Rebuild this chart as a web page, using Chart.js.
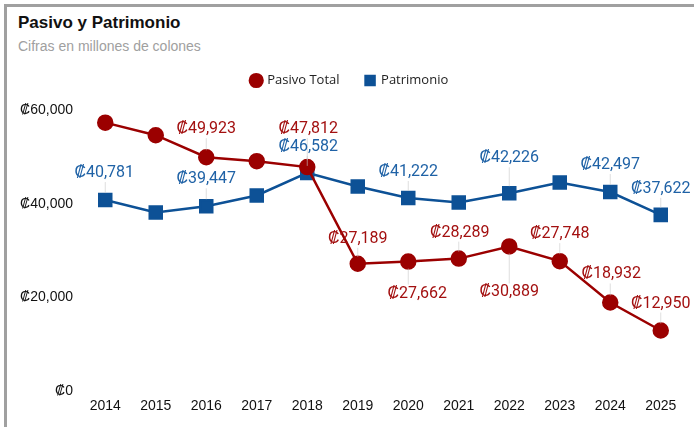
<!DOCTYPE html>
<html>
<head>
<meta charset="utf-8">
<script src="https://cdn.jsdelivr.net/npm/chart.js@4"></script>
<style>
  html, body { margin: 0; padding: 0; background: #fff; overflow: hidden; }
  #frame { position: absolute; left: 4px; top: 4px; width: 690px; height: 423px;
           border-top: 3px solid #a0a0a0; border-left: 3px solid #a0a0a0; box-sizing: border-box; }
  #title { position: absolute; left: 18px; top: 13px; font: bold 17px "Liberation Sans", Arial, sans-serif; color: #111; }
  #sub { position: absolute; left: 18px; top: 38px; font: 14px "Liberation Sans", Arial, sans-serif; color: #a0a0a0; }
  #wrap { position: absolute; left: 0; top: 0; width: 697px; height: 427px; }
</style>
</head>
<body>
<div id="frame"></div>
<div id="title">Pasivo y Patrimonio</div>
<div id="sub">Cifras en millones de colones</div>
<div id="wrap"><canvas id="chart"></canvas></div>
<script>
const years = ['2014', '2015', '2016', '2017', '2018', '2019', '2020', '2021', '2022', '2023', '2024', '2025'];
const pasivoTotal = [57300, 54620, 49923, 49085, 47812, 27189, 27662, 28289, 30889, 27748, 18932, 12950];
const patrimonio = [40781, 38150, 39447, 41770, 46582, 43680, 41222, 40280, 42226, 44530, 42497, 37622];
const yTicks = [0, 20000, 40000, 60000];

// label offsets (dx, dy) from each point; null = no label
const pasivoLabelPos = [null, null, [0, -28], null, [1, -38], [0, -25], [9, 32], [1, -26], [0, 46], [0, -27], [1, -28], [0, -27]];
const patrimonioLabelPos = [[-1, -27], null, [0, -27], null, [1, -26], null, [0, -26], null, [0, -35], null, [0, -27], [0, -26]];

const RED = '#9b0000';
const BLUE = '#0d5196';

const fmt = v => '₡' + v.toLocaleString('en-US');

const pointLabels = {
  id: 'pointLabels',
  afterDatasetsDraw(chart) {
    const ctx = chart.ctx;
    const sets = [[0, pasivoLabelPos, '#a31010'], [1, patrimonioLabelPos, '#1f62a6']];
    ctx.save();
    ctx.font = '16px Roboto, sans-serif';
    ctx.textAlign = 'center';
    ctx.textBaseline = 'middle';
    sets.forEach(([di, pos, color]) => {
      const meta = chart.getDatasetMeta(di);
      const data = chart.data.datasets[di].data;
      meta.data.forEach((pt, i) => {
        const p = pos[i];
        if (!p) return;
        const lx = pt.x + p[0], ly = pt.y + p[1];
        // faint leader line
        ctx.strokeStyle = 'rgba(200,200,200,0.6)';
        ctx.lineWidth = 1;
        ctx.beginPath();
        if (p[1] < 0) { ctx.moveTo(pt.x, ly + 9); ctx.lineTo(pt.x, pt.y - 7); }
        else { ctx.moveTo(pt.x, pt.y + 7); ctx.lineTo(pt.x, ly - 9); }
        ctx.stroke();
        ctx.fillStyle = color;
        ctx.fillText(fmt(data[i]), lx, ly);
      });
    });
    ctx.restore();
  }
};

// extra room under the legend
const legendGap = {
  id: 'legendGap',
  beforeInit(chart) {
    const fit = chart.legend.fit;
    chart.legend.fit = function () { fit.call(this); this.height += 13; };
  }
};

const tickFont = { family: '"Liberation Sans", Arial, sans-serif', size: 14 };

new Chart(document.getElementById('chart'), {
  type: 'line',
  data: {
    labels: years,
    datasets: [
      { label: 'Pasivo Total', data: pasivoTotal, borderColor: RED, backgroundColor: RED,
        borderWidth: 2.5, pointStyle: 'circle', pointRadius: 7, pointHoverRadius: 7, tension: 0 },
      { label: 'Patrimonio', data: patrimonio, borderColor: BLUE, backgroundColor: BLUE,
        borderWidth: 2.5, pointStyle: 'rect', pointRadius: 8.5, pointHoverRadius: 8.5, tension: 0 }
    ]
  },
  options: {
    responsive: true,
    maintainAspectRatio: false,
    animation: false,
    layout: { padding: { top: 48, left: 12, right: 9, bottom: 5 } },
    plugins: {
      legend: {
        position: 'top',
        labels: {
          usePointStyle: true, boxWidth: 9, boxHeight: 9, padding: 26,
          color: '#222', font: { family: '"Open Sans", sans-serif', size: 13 }
        }
      },
      tooltip: { enabled: false }
    },
    scales: {
      x: {
        offset: true,
        grid: { display: false, drawTicks: false },
        border: { display: false },
        ticks: { color: '#111', font: tickFont, padding: 7 }
      },
      y: {
        min: 0, max: 60000,
        afterBuildTicks: axis => { axis.ticks = yTicks.map(v => ({ value: v })); },
        grid: { display: false, drawTicks: false },
        border: { display: false },
        ticks: { color: '#111', font: tickFont, padding: 7, callback: v => fmt(v) },
        afterFit: axis => { axis.width = 68; }
      }
    }
  },
  plugins: [pointLabels, legendGap]
});
</script>
</body>
</html>
